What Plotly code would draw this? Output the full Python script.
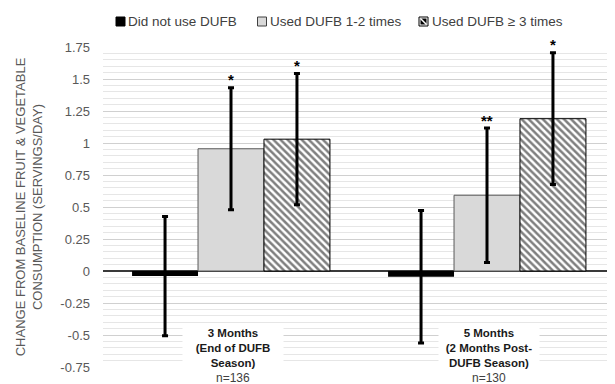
import plotly.graph_objects as go

# ---------------- data ----------------
categories = ["3 Months<br>(End of DUFB<br>Season)", "5 Months<br>(2 Months Post-<br>DUFB Season)"]
n_labels = ["n=136", "n=130"]
series_names = ["Did not use DUFB", "Used DUFB 1-2 times", "Used DUFB \u2265 3 times"]
no_use = [-0.04, -0.045]
no_use_err = [0.465, 0.518]
use_1_2 = [0.955, 0.592]
use_1_2_err = [0.477, 0.525]
use_3plus = [1.03, 1.19]
use_3plus_err = [0.512, 0.515]
# significance markers, per series, per category
sig_no_use = ["", ""]
sig_1_2 = ["*", "**"]
sig_3plus = ["*", "*"]
tick_vals = [1.75, 1.5, 1.25, 1, 0.75, 0.5, 0.25, 0, -0.25, -0.5, -0.75]
tick_text = ["1.75", "1.5", "1.25", "1", "0.75", "0.5", "0.25", "0", "-0.25", "-0.5", "-0.75"]
y_title = "CHANGE FROM BASELINE FRUIT & VEGETABLE<br>CONSUMPTION (SERVINGS/DAY)"

# ---------------- layout constants ----------------
OFF = 8  # default page body margin of the html page
W, H = 615 - OFF, 384 - OFF
L, R, T, B = 103 - OFF, 0, 47 - OFF, 17
PW, PH = W - L - R, H - T - B
BARGAP = 0.227
FONT = "Arial, Liberation Sans, sans-serif"


def px2paper(px, py):
    # px, py are window pixel coordinates of the target picture
    return (px - OFF - L) / PW, (H - B - (py - OFF)) / PH


fig = go.Figure()
err_style = dict(type="data", visible=True, thickness=3, width=3, color="#000000")
fig.add_trace(go.Bar(name=series_names[0], x=categories, y=no_use,
                     marker=dict(color="#000000", line=dict(color="#000000", width=0)),
                     error_y=dict(array=no_use_err, **err_style)))
fig.add_trace(go.Bar(name=series_names[1], x=categories, y=use_1_2,
                     marker=dict(color="#d9d9d9", line=dict(color="#595959", width=1)),
                     error_y=dict(array=use_1_2_err, **err_style)))
fig.add_trace(go.Bar(name=series_names[2], x=categories, y=use_3plus,
                     marker=dict(color="#ffffff", line=dict(color="#000000", width=1),
                                 pattern=dict(shape="\\", fgcolor="#000000", bgcolor="#ffffff",
                                              size=5, solidity=0.5)),
                     error_y=dict(array=use_3plus_err, **err_style)))

annotations = []
shapes = []

# significance stars above error bars
bw = (1 - BARGAP) / 3
for j, (vals, errs, sigs) in enumerate([(no_use, no_use_err, sig_no_use),
                                         (use_1_2, use_1_2_err, sig_1_2),
                                         (use_3plus, use_3plus_err, sig_3plus)]):
    for i in range(len(categories)):
        if sigs[i]:
            annotations.append(dict(x=i + (j - 1) * bw, y=vals[i] + errs[i], xref="x", yref="y",
                                    text=sigs[i], showarrow=False, yanchor="middle", yshift=8,
                                    font=dict(family=FONT, size=15, color="#000000", weight="bold")))

# category labels inside plot
for i, (c, n) in enumerate(zip(categories, n_labels)):
    annotations.append(dict(x=i, y=px2paper(0, 348)[1], xref="x", yref="paper", text=c,
                            showarrow=False, yanchor="middle", xshift=2, bgcolor="#ffffff",
                            width=100, align="center", borderpad=0,
                            font=dict(family=FONT, size=11.5, color="#1a1a1a", weight="bold")))
    annotations.append(dict(x=i, y=px2paper(0, 377.5)[1], xref="x", yref="paper", text=n,
                            showarrow=False, yanchor="middle", xshift=2, borderpad=0,
                            font=dict(family=FONT, size=12, color="#404040")))

# manual legend
leg_y = 21.5
leg_items = [(116, 126, "#000000", "#000000", False),
             (257.5, 268, "#d9d9d9", "#404040", False),
             (419, 429.5, "#ffffff", "#000000", True)]
for (sx, tx, fill, line, hatch), name in zip(leg_items, series_names):
    x0, y0 = px2paper(sx, leg_y - 4.5)
    x1, y1 = px2paper(sx + 9, leg_y + 4.5)
    shapes.append(dict(type="rect", xref="paper", yref="paper", x0=x0, x1=x1, y0=y1, y1=y0,
                       fillcolor=fill, line=dict(color=line, width=1)))
    if hatch:
        xa, ya = px2paper(sx + 1.5, leg_y - 3)
        xb, yb = px2paper(sx + 7.5, leg_y + 3)
        shapes.append(dict(type="rect", xref="paper", yref="paper", x0=xa, x1=xb, y0=yb, y1=ya,
                           fillcolor="#000000", line=dict(width=0)))
        shapes.append(dict(type="line", xref="paper", yref="paper", x0=xa, y0=ya, x1=xb, y1=yb,
                           line=dict(color="#ffffff", width=1.5)))
    ax, ay = px2paper(tx, leg_y)
    annotations.append(dict(x=ax, y=ay, xref="paper", yref="paper", text=name, showarrow=False,
                            xanchor="left", yanchor="middle",
                            font=dict(family=FONT, size=13.5, color="#404040")))

fig.update_layout(
    width=W, height=H,
    margin=dict(l=L, r=R, t=T, b=B, autoexpand=False),
    paper_bgcolor="#ffffff", plot_bgcolor="#ffffff",
    barmode="group", bargap=BARGAP, bargroupgap=0,
    showlegend=False,
    font=dict(family=FONT, color="#595959"),
    annotations=annotations, shapes=shapes,
    xaxis=dict(type="category", range=[-0.5, 1.5], showticklabels=False, showgrid=False,
               zeroline=False, showline=False, ticks=""),
    yaxis=dict(range=[-0.75, 1.75], tickvals=tick_vals, ticktext=tick_text,
               showgrid=True, gridcolor="#d0d0d0", gridwidth=1,
               minor=dict(dtick=0.05, tick0=0, showgrid=True, gridcolor="#e6e6e6", gridwidth=1),
               zeroline=True, zerolinecolor="#3a3a3a", zerolinewidth=1.5,
               showline=False, ticks="", ticklabelstandoff=12,
               tickfont=dict(family=FONT, size=13, color="#595959"),
               title=dict(text=y_title, standoff=14,
                          font=dict(family=FONT, size=13, color="#595959"))),
)

fig.write_html("out.html")
